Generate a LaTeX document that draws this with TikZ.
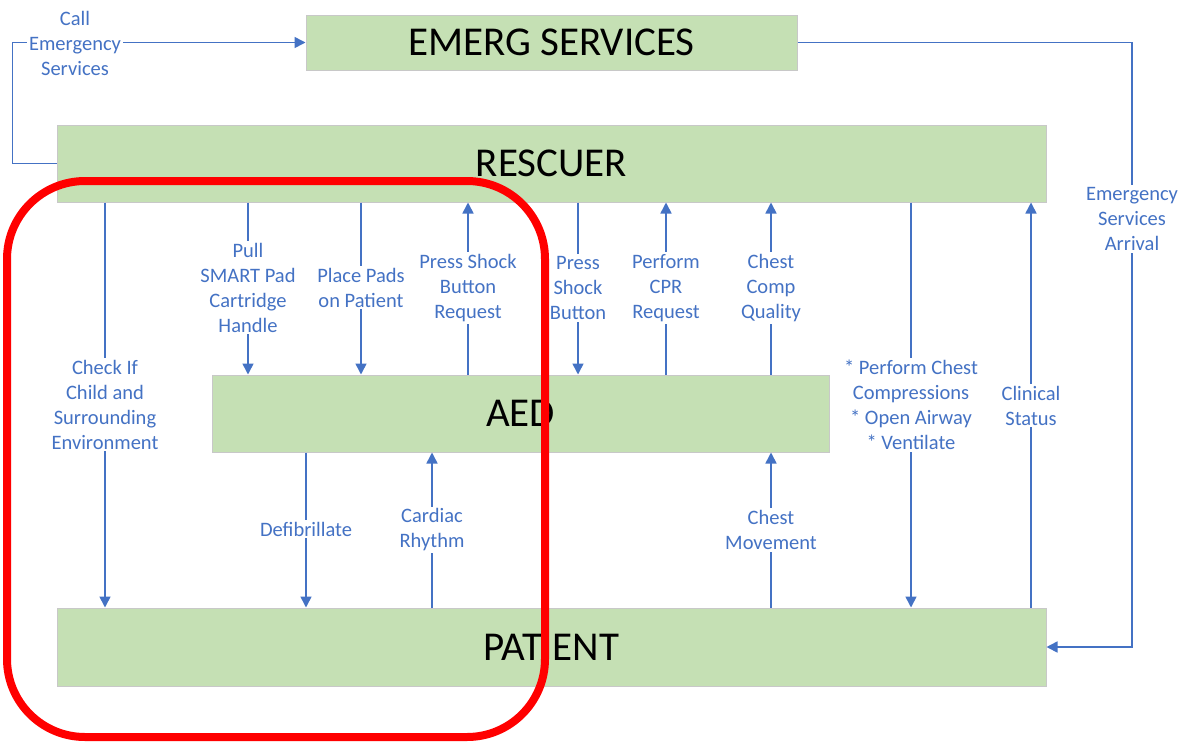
\documentclass[tikz,border=0pt]{standalone}
\usepackage{fontspec}
\setmainfont{Carlito}
\usetikzlibrary{arrows.meta}
\definecolor{boxgreen}{HTML}{C5E0B4}
\definecolor{boxedge}{HTML}{C8C8C8}
\definecolor{flowblue}{HTML}{4472C4}
\tikzset{
  block/.style={draw=boxedge, line width=1pt, fill=boxgreen, inner sep=0pt,
    font=\fontsize{41}{49}\selectfont, text=black},
  flow/.style={draw=flowblue, line width=1.6pt,
    -{Triangle[width=11pt,length=11pt]}},
  plain/.style={draw=flowblue, line width=1.6pt},
  lbl/.style={fill=white, inner sep=2pt, align=center, text=flowblue,
    font=\fontsize{20.5}{25}\selectfont},
  focus/.style={draw=red, line width=8pt, rounded corners=78pt}
}
\begin{document}
\begin{tikzpicture}[x=1pt, y=-1pt]
\useasboundingbox (0,0) rectangle (1178,742);

% main blocks
\node[block, minimum width=491pt, minimum height=55pt] (emerg) at (551.5,42.5) {EMERG SERVICES};
\node[block, minimum width=989pt, minimum height=77pt] (rescuer) at (551.5,163.5) {RESCUER};
\node[block, minimum width=617pt, minimum height=77pt] (aed) at (520.5,413.5) {AED};
\node[block, minimum width=989pt, minimum height=78pt] (patient) at (551.5,647) {PATIENT};

% label positions (each label sits on its own connector)
\coordinate (callc) at (75,43);
\coordinate (arrc) at (1132,219);
\coordinate (checkc) at (105,404.5);
\coordinate (pullc) at (248,287.5);
\coordinate (placec) at (361,287.5);
\coordinate (preqc) at (468,288);
\coordinate (pressc) at (578,288);
\coordinate (cprc) at (666,288);
\coordinate (qualc) at (771,288);
\coordinate (compc) at (911,405);
\coordinate (clinc) at (1031,405.5);
\coordinate (defc) at (306,529);
\coordinate (cardc) at (432,530);
\coordinate (movc) at (771,530);

% connectors
\draw[flow] (rescuer.west) -- ++(-44,0) |- (emerg.west);
\draw[flow] (emerg.east) -- (emerg.east -| arrc) |- (patient.east);
\draw[flow] (rescuer.south -| checkc) -- (patient.north -| checkc);
\draw[flow] (rescuer.south -| pullc) -- (aed.north -| pullc);
\draw[flow] (rescuer.south -| placec) -- (aed.north -| placec);
\draw[flow] (aed.north -| preqc) -- (rescuer.south -| preqc);
\draw[flow] (rescuer.south -| pressc) -- (aed.north -| pressc);
\draw[flow] (aed.north -| cprc) -- (rescuer.south -| cprc);
\draw[flow] (aed.north -| qualc) -- (rescuer.south -| qualc);
\draw[flow] (rescuer.south -| compc) -- (patient.north -| compc);
\draw[flow] (patient.north -| clinc) -- (rescuer.south -| clinc);
\draw[flow] (aed.south -| defc) -- (patient.north -| defc);
\draw[flow] (patient.north -| cardc) -- (aed.south -| cardc);
\draw[flow] (patient.north -| movc) -- (aed.south -| movc);

% connector labels
\node[lbl] (call) at (callc) {Call\\Emergency\\Services};
\node[lbl] (arrival) at (arrc) {Emergency\\Services\\Arrival};
\node[lbl] (check) at (checkc) {Check If\\Child and\\Surrounding\\Environment};
\node[lbl] (pull) at (pullc) {Pull\\SMART Pad\\Cartridge\\Handle};
\node[lbl] (place) at (placec) {Place Pads\\on Patient};
\node[lbl] (preq) at (preqc) {Press Shock\\Button\\Request};
\node[lbl] (press) at (pressc) {Press\\Shock\\Button};
\node[lbl] (cpr) at (cprc) {Perform\\CPR\\Request};
\node[lbl] (qual) at (qualc) {Chest\\Comp\\Quality};
\node[lbl] (comp) at (compc) {* Perform Chest\\Compressions\\* Open Airway\\* Ventilate};
\node[lbl] (clin) at (clinc) {Clinical\\Status};
\node[lbl] (def) at (defc) {Defibrillate};
\node[lbl] (card) at (cardc) {Cardiac\\Rhythm};
\node[lbl] (mov) at (movc) {Chest\\Movement};

% highlighted region
\draw[focus] (7,181) rectangle (545,737);
\end{tikzpicture}
\end{document}
